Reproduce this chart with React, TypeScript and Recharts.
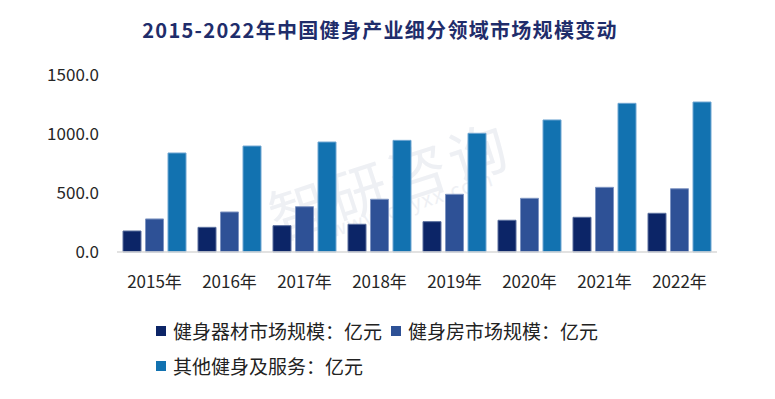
import React from 'react';
import { BarChart, Bar, XAxis, YAxis, Legend } from 'recharts';

const years = ['2015年', '2016年', '2017年', '2018年', '2019年', '2020年', '2021年', '2022年'];
const equipment = [178, 209, 223, 235, 257, 269, 294, 328];
const gyms = [280, 339, 384, 447, 489, 455, 548, 536];
const services = [839, 898, 932, 946, 1006, 1119, 1260, 1271];
const yTicks = [0, 500, 1000, 1500];
const seriesNames = ['健身器材市场规模：亿元', '健身房市场规模：亿元', '其他健身及服务：亿元'];
const title = '2015-2022年中国健身产业细分领域市场规模变动';
const watermarkText = '智研咨询';
const watermarkUrl = 'www.chyxx.com';

const colors = ['#0c2567', '#2e5196', '#1272b0'];
const strokes = ['#5a6f9e', '#7f95c2', '#6fa6d2'];
const FONT = '"Noto Sans CJK SC", "Noto Sans", sans-serif';

const data = years.map((y, i) => ({
  year: y,
  s0: equipment[i],
  s1: gyms[i],
  s2: services[i],
}));

const wmStyle = (left: number, top: number, size: number, angle: number): React.CSSProperties => ({
  position: 'absolute',
  left,
  top,
  fontFamily: FONT,
  fontSize: size,
  color: '#eef0f4',
  whiteSpace: 'nowrap',
  transform: `rotate(${angle}deg)`,
  transformOrigin: 'left center',
  letterSpacing: size * 0.08,
});

const LegendContent = () => (
  <div style={{ display: 'flex', flexWrap: 'wrap', width: 470, fontFamily: FONT, fontSize: 19, color: '#222' }}>
    {seriesNames.map((n, i) => (
      <div key={n} style={{ display: 'flex', alignItems: 'center', height: 35, marginRight: 9 }}>
        <span style={{ display: 'inline-block', width: 10, height: 10, background: colors[i], marginRight: 7 }} />
        <span>{n}</span>
      </div>
    ))}
  </div>
);

export default function App() {
  return (
    <div style={{ position: 'absolute', left: 0, top: 0, width: 775, height: 399, background: '#fff', overflow: 'hidden' }}>
      <div style={wmStyle(270, 175, 58, -18)}>{watermarkText}</div>
      <div style={wmStyle(330, 215, 20, -18)}>{watermarkUrl}</div>
      <div
        style={{
          position: 'absolute',
          left: 0,
          top: 15,
          width: 760,
          textAlign: 'center',
          fontFamily: FONT,
          fontWeight: 700,
          fontSize: 20,
          letterSpacing: 1.3,
          color: '#1f2d6b',
          lineHeight: '30px',
        }}
      >
        {title}
      </div>
      <div style={{ position: 'absolute', left: 0, top: 0 }}>
        <BarChart
          width={775}
          height={399}
          data={data}
          margin={{ top: 75, right: 58, bottom: 117, left: 0 }}
          barSize={18}
          barGap={4.5}
        >
          <XAxis
            dataKey="year"
            height={30}
            tickLine={false}
            tickSize={0}
            tickMargin={24}
            axisLine={{ stroke: '#d9d9d9', strokeWidth: 1.5 }}
            tick={{ fontSize: 17, fill: '#262626', fontFamily: FONT }}
            interval={0}
          />
          <YAxis
            width={117}
            domain={[0, 1500]}
            ticks={yTicks}
            axisLine={false}
            tickLine={false}
            tickSize={0}
            tickMargin={18}
            tickFormatter={(v: number) => v.toFixed(1)}
            tick={{ fontSize: 17, fill: '#262626', fontFamily: FONT }}
          />
          <Legend
            layout="horizontal"
            verticalAlign="middle"
            align="center"
            content={<LegendContent />}
            wrapperStyle={{ position: 'absolute', left: 156, top: 313, width: 470 }}
          />
          <Bar dataKey="s0" name={seriesNames[0]} fill={colors[0]} stroke={strokes[0]} strokeWidth={1} isAnimationActive={false} />
          <Bar dataKey="s1" name={seriesNames[1]} fill={colors[1]} stroke={strokes[1]} strokeWidth={1} isAnimationActive={false} />
          <Bar dataKey="s2" name={seriesNames[2]} fill={colors[2]} stroke={strokes[2]} strokeWidth={1} isAnimationActive={false} />
        </BarChart>
      </div>
    </div>
  );
}
